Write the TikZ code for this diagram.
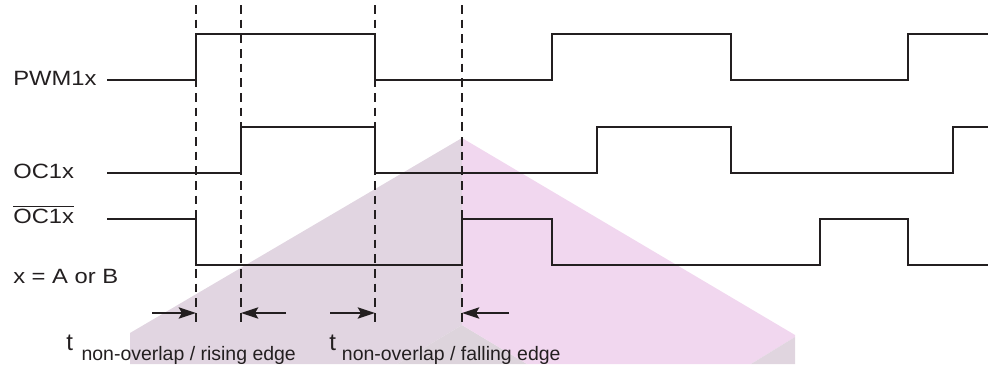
\documentclass[tikz,border=0pt]{standalone}
\usepackage{fontspec}
\setmainfont{Liberation Sans}
\newfontfamily\labelfont[FakeStretch=1.15]{Liberation Sans}
\usepackage{tikz}
\usetikzlibrary{arrows.meta}
\definecolor{sig_black}{HTML}{231F20}
\definecolor{wm_left}{HTML}{E1D5E1}
\definecolor{wm_right}{HTML}{F1D7EF}
\definecolor{wm_front}{HTML}{DDD4DC}
\definecolor{wm_side}{HTML}{E0D5DF}

\begin{document}
\begin{tikzpicture}[
    x=0.75pt, y=-0.75pt,
    signal/.style={draw=sig_black, line width=1.7pt, line join=miter},
    marker/.style={draw=sig_black, line width=2pt, dash pattern=on 6.5pt off 4.5pt},
    timing/.style={draw=sig_black, line width=1.2pt, -{Stealth[length=13pt, width=8.5pt, inset=2.5pt]}},
    siglabel/.style={font=\labelfont\fontsize{15.5}{17}\selectfont, text=sig_black, anchor=base west, inner sep=0pt},
    tlabel/.style={font=\fontsize{14.6}{16}\selectfont, text=sig_black, anchor=base west, inner sep=0pt}
]
\useasboundingbox (0,0) rectangle (988,364);

% --- Hintergrund: Wasserzeichen ---
\fill[wm_left]  (462,138) -- (130,333) -- (130,364) -- (397,364) -- (462,325) -- cycle;
\fill[wm_front] (462,325) -- (397,364) -- (527,364) -- cycle;
\fill[wm_right] (462,138) -- (795,335) -- (795,337) -- (751,364) -- (527,364) -- (462,325) -- cycle;
\fill[wm_side]  (795,337) -- (795,364) -- (751,364) -- cycle;

% --- Markierungen: gestrichelte Linien ---
\foreach \x [count=\i] in {196, 241, 375, 462} {
    \coordinate (M\i top) at (\x, 5);
    \coordinate (M\i) at (\x, 313);
    \coordinate (M\i bot) at (\x, 325);
    \draw[marker] (M\i top) -- (M\i bot);
}

% --- Signale ---
% PWM1x
\draw[signal] (107,80) -- (196,80) -- (196,34) -- (375,34) -- (375,80)
    -- (552,80) -- (552,34) -- (731,34) -- (731,80) -- (908,80) -- (908,34) -- (988,34);
% OC1x
\draw[signal] (107,173) -- (241,173) -- (241,127) -- (375,127) -- (375,173)
    -- (597,173) -- (597,127) -- (731,127) -- (731,173) -- (953,173) -- (953,127) -- (988,127);
% OC1x invertiert
\draw[signal] (107,219) -- (196,219) -- (196,265) -- (462,265) -- (462,219)
    -- (552,219) -- (552,265) -- (820,265) -- (820,219) -- (908,219) -- (908,265) -- (988,265);

% --- Beschriftungen ---
\node[siglabel] (lbl_pwm) at (13,85)  {PWM1x};
\node[siglabel] (lbl_oc)  at (13,178) {OC1x};
\node[siglabel] (lbl_ocn) at (13,223) {$\overline{\mbox{OC1x}}$};
\node[siglabel] (lbl_x)   at (13,283) {x = A or B};

% --- Totzeit-Pfeile ---
\coordinate (A1) at (152,313);
\coordinate (A2) at (286,313);
\coordinate (A3) at (330,313);
\coordinate (A4) at (509,313);
\draw[timing] (A1) -- (M1);
\draw[timing] (A2) -- (M2);
\draw[timing] (A3) -- (M3);
\draw[timing] (A4) -- (M4);

\node[tlabel] (lbl_rise) at (66,350)
    {{\fontsize{18}{19}\selectfont t}\hspace{6.5pt}\raisebox{-8.2pt}{non-overlap / rising edge}};
\node[tlabel] (lbl_fall) at (329,350)
    {{\fontsize{18}{19}\selectfont t}\hspace{4.5pt}\raisebox{-8.2pt}{non-overlap / falling edge}};

\end{tikzpicture}
\end{document}
